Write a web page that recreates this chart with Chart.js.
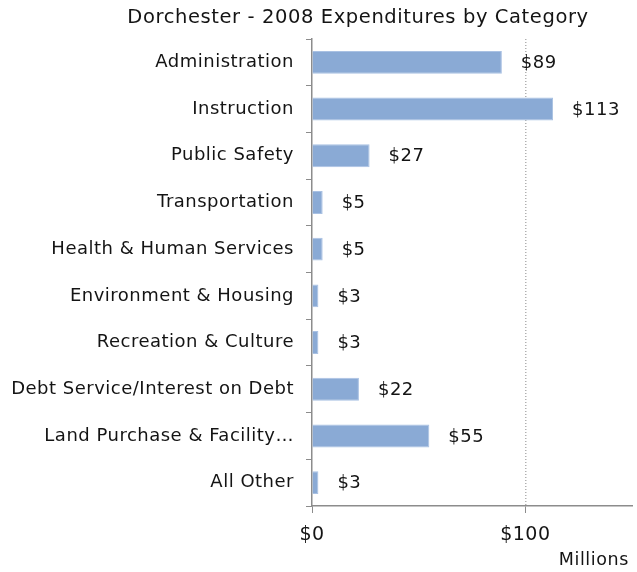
<!DOCTYPE html>
<html>
<head>
<meta charset="utf-8">
<script src="https://cdn.jsdelivr.net/npm/chart.js@4/dist/chart.umd.min.js"></script>
<style>
  html, body { margin: 0; padding: 0; background: #fff; }
  #wrap { width: 637px; height: 572px; }
</style>
</head>
<body>
<div id="wrap"><canvas id="myChart" width="637" height="572"></canvas></div>
<script>
// spending categories and amounts (millions of dollars)
const categories = [
  'Administration',
  'Instruction',
  'Public Safety',
  'Transportation',
  'Health & Human Services',
  'Environment & Housing',
  'Recreation & Culture',
  'Debt Service/Interest on Debt',
  'Land Purchase & Facility…',
  'All Other'
];
const amounts = [89, 113, 27, 5, 5, 3, 3, 22, 55, 3];
const xTicks = [0, 100];

const FONT = 'DejaVu Sans';
const TEXT = '#141414';
const AXIS = '#8c8c8c';

// wider letter spacing for every text drawn on the canvas
const spacing = {
  id: 'spacing',
  beforeUpdate(chart) { chart.ctx.letterSpacing = '0.5px'; },
  beforeDraw(chart) { chart.ctx.letterSpacing = '0.5px'; }
};

// title, unit caption and the dotted $100 line
const decorations = {
  id: 'decorations',
  beforeDatasetsDraw(chart) {
    const x = chart.scales.x.getPixelForValue(100);
    const area = chart.chartArea;
    const c = chart.ctx;
    c.save();
    c.strokeStyle = '#8a8a8a';
    c.lineWidth = 1;
    c.setLineDash([1, 2]);
    c.beginPath();
    c.moveTo(x + 0.5, area.top);
    c.lineTo(x + 0.5, area.bottom);
    c.stroke();
    c.restore();
  },
  afterDraw(chart) {
    const c = chart.ctx;
    c.save();
    c.letterSpacing = '0.6px';
    c.fillStyle = TEXT;
    c.textBaseline = 'middle';
    c.font = '19.5px "' + FONT + '"';
    c.textAlign = 'center';
    c.fillText('Dorchester - 2008 Expenditures by Category', 358, 18);
    c.font = '17.5px "' + FONT + '"';
    c.textAlign = 'right';
    c.fillText('Millions', 629, 560);
    c.restore();
  }
};

// writes "$NN" to the right of each bar
const valueLabels = {
  id: 'value-labels',
  afterDatasetsDraw(chart) {
    const ctx = chart.ctx;
    const meta = chart.getDatasetMeta(0);
    ctx.save();
    ctx.font = '18px "' + FONT + '"';
    ctx.fillStyle = TEXT;
    ctx.textAlign = 'left';
    ctx.textBaseline = 'middle';
    meta.data.forEach((bar, i) => {
      ctx.fillText('$' + amounts[i], bar.x + 19, bar.y + 1);
    });
    ctx.restore();
  }
};

const ctx = document.getElementById('myChart').getContext('2d');

new Chart(ctx, {
  type: 'bar',
  data: {
    labels: categories,
    datasets: [{
      data: amounts,
      backgroundColor: '#8aaad5',
      borderColor: '#a9c1e3',
      borderWidth: 1,
      barPercentage: 0.49,
      categoryPercentage: 1
    }]
  },
  options: {
    indexAxis: 'y',
    responsive: false,
    animation: false,
    layout: { padding: { left: 0, right: 5, top: 39, bottom: 0 } },
    plugins: {
      legend: { display: false },
      tooltip: { enabled: false },
      title: { display: false }
    },
    scales: {
      x: {
        min: 0,
        max: 150,
        afterBuildTicks: (scale) => {
          scale.ticks = xTicks.map(v => ({ value: v }));
        },
        afterFit: (scale) => { scale.height = 66; },
        ticks: {
          color: TEXT,
          font: { family: FONT, size: 19 },
          padding: 11,
          callback: (v) => '$' + v
        },
        border: { display: true, color: AXIS, width: 1.5 },
        grid: {
          drawOnChartArea: false,
          tickLength: 7,
          tickColor: AXIS,
          lineWidth: 1
        }
      },
      y: {
        afterFit: (scale) => { scale.width = 312; },
        ticks: {
          color: TEXT,
          font: { family: FONT, size: 18 },
          padding: 12
        },
        border: { display: true, color: AXIS, width: 1.5 },
        grid: {
          offset: true,
          drawOnChartArea: false,
          tickLength: 6,
          color: AXIS
        }
      }
    }
  },
  plugins: [spacing, decorations, valueLabels]
});
</script>
</body>
</html>
